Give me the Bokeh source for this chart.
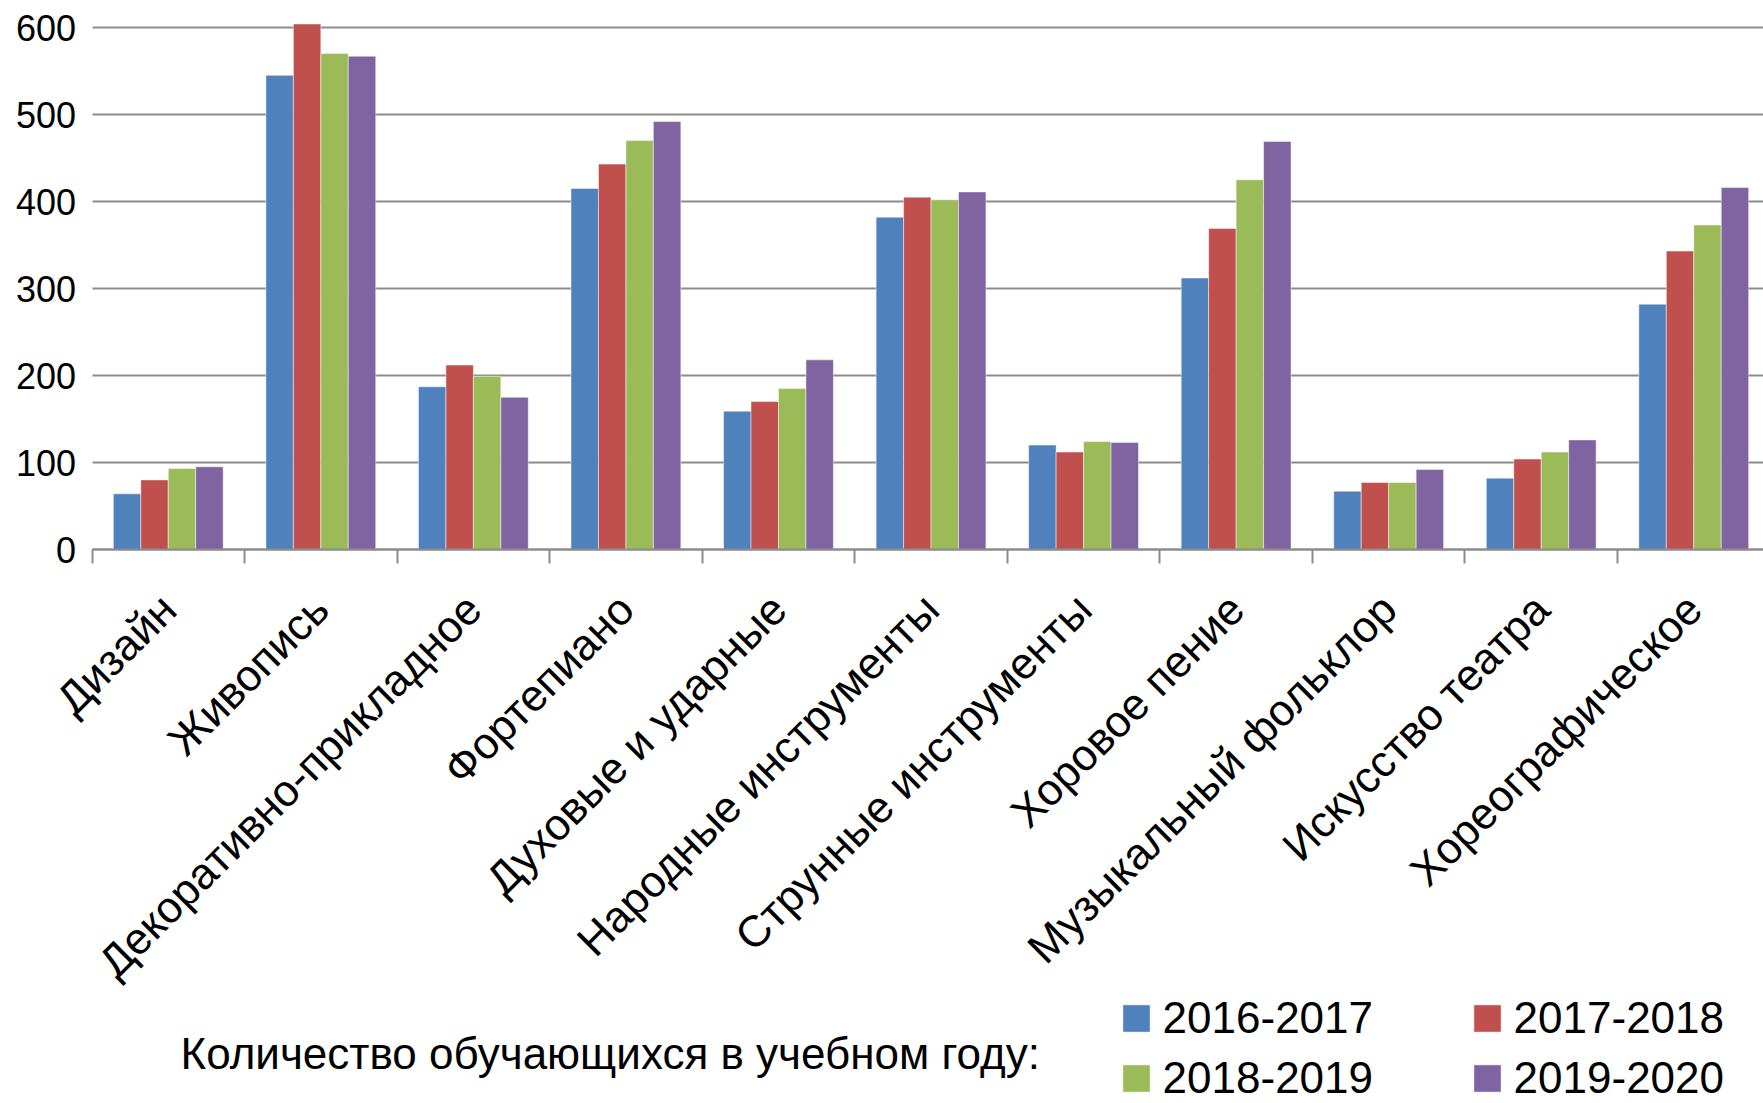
import math
from bokeh.plotting import figure
from bokeh.models import (ColumnDataSource, Range1d, FixedTicker, LinearAxis, Grid,
                          Legend, LegendItem, Label)
from bokeh.transform import dodge
from bokeh.embed import file_html
from bokeh.resources import INLINE

# ---------------- data ----------------
categories = ["Дизайн", "Живопись", "Декоративно-прикладное", "Фортепиано",
              "Духовые и ударные", "Народные инструменты", "Струнные инструменты",
              "Хоровое пение", "Музыкальный фольклор", "Искусство театра",
              "Хореографическое"]
years = ["2016-2017", "2017-2018", "2018-2019", "2019-2020"]
v2016_2017 = [64, 545, 187, 415, 159, 382, 120, 312, 67, 82, 282]
v2017_2018 = [80, 604, 212, 443, 170, 405, 112, 369, 77, 104, 343]
v2018_2019 = [93, 570, 199, 470, 185, 402, 124, 425, 77, 112, 373]
v2019_2020 = [95, 567, 175, 492, 218, 411, 123, 469, 92, 126, 416]
y_ticks = [0, 100, 200, 300, 400, 500, 600]
legend_title = "Количество обучающихся в учебном году:"

series = [v2016_2017, v2017_2018, v2018_2019, v2019_2020]
colors = ["#4F81BD", "#C0504D", "#9BBB59", "#8064A2"]
FONT = "Liberation Sans"
GRID = "#8c8c8c"

# ---------------- geometry ----------------
W, H = 1763, 1103
AXIS_X = 91.5           # canvas x of the value axis
ZERO = 549              # canvas y of the value 0
TOP600 = 27             # canvas y of the value 600
px_per_cat = 152.55
px_per_unit = (ZERO - TOP600) / 600.0
x_lo = -0.5                                    # left boundary of the first category
x_start = x_lo - AXIS_X / px_per_cat
x_end = x_lo + (W - AXIS_X) / px_per_cat
y_end = ZERO / px_per_unit
y_start = -(H - ZERO) / px_per_unit

p = figure(width=W, height=H, output_backend="svg", toolbar_location=None,
           x_range=Range1d(x_start, x_end), y_range=Range1d(y_start, y_end),
           title=None, x_axis_location=None, y_axis_location=None,
           min_border_left=0, min_border_right=0,
           min_border_top=0, min_border_bottom=0)
p.outline_line_color = None
p.background_fill_color = "white"
p.border_fill_color = "white"
p.grid.visible = False

# horizontal grid lines, from the value axis to the right edge
try:
    ygrid = Grid(dimension=1, ticker=FixedTicker(ticks=y_ticks), cross_bounds=(x_lo, x_end),
                 grid_line_color=GRID, grid_line_width=2)
    p.add_layout(ygrid)
except Exception:
    p.segment(x0=[x_lo] * len(y_ticks), y0=y_ticks, x1=[x_end] * len(y_ticks), y1=y_ticks,
              line_color=GRID, line_width=2, level="underlay")

# value axis (labels only) fixed at the left boundary
yaxis = LinearAxis(fixed_location=x_lo, ticker=FixedTicker(ticks=y_ticks))
yaxis.axis_line_color = None
yaxis.major_tick_line_color = None
yaxis.minor_tick_line_color = None
yaxis.major_tick_out = 0
yaxis.major_tick_in = 0
yaxis.major_label_standoff = 16
yaxis.major_label_text_font = FONT
yaxis.major_label_text_font_size = "36px"
yaxis.major_label_text_color = "black"
p.add_layout(yaxis, "left")

# category axis fixed at value 0: labels at centres, tick marks at boundaries
idx = list(range(len(categories)))
xaxis = LinearAxis(fixed_location=0, bounds=(x_lo, x_end),
                   ticker=FixedTicker(ticks=idx,
                                      minor_ticks=[i - 0.5 for i in range(len(categories) + 1)]))
xaxis.major_label_overrides = {i: c for i, c in zip(idx, categories)}
xaxis.axis_line_color = GRID
xaxis.axis_line_width = 2
xaxis.major_tick_line_color = None
xaxis.major_tick_out = 0
xaxis.major_tick_in = 0
xaxis.minor_tick_line_color = GRID
xaxis.minor_tick_line_width = 2
xaxis.minor_tick_out = 14
xaxis.minor_tick_in = 0
xaxis.major_label_orientation = math.pi / 4
xaxis.major_label_standoff = 38
xaxis.major_label_text_font = FONT
xaxis.major_label_text_font_size = "44px"
xaxis.major_label_text_color = "black"
p.add_layout(xaxis, "below")

# bars
src = ColumnDataSource(dict(x=idx, s0=series[0], s1=series[1], s2=series[2], s3=series[3]))
offsets = [-0.27, -0.09, 0.09, 0.27]
renderers = []
for k in range(4):
    r = p.vbar(x=dodge("x", offsets[k], range=p.x_range), top="s%d" % k, width=0.18,
               source=src, fill_color=colors[k], line_color="white",
               line_alpha=0.6, line_width=0.8)
    renderers.append(r)

# legend
legend = Legend(items=[LegendItem(label=years[k], renderers=[renderers[k]]) for k in range(4)],
                orientation="horizontal", ncols=2,
                location=(1118.6, 0),
                label_text_font=FONT, label_text_font_size="44px", label_text_color="black",
                glyph_width=34, glyph_height=34, label_standoff=10,
                label_width=297, spacing=10, padding=0, margin=0,
                border_line_color=None, background_fill_alpha=0)
p.add_layout(legend)

title_label = Label(x=180, y=50, x_units="screen", y_units="screen",
                    text=legend_title, text_font=FONT, text_font_size="44px",
                    text_color="black", text_baseline="alphabetic", text_align="left")
p.add_layout(title_label)

open("out.html", "w").write(file_html(p, INLINE))
